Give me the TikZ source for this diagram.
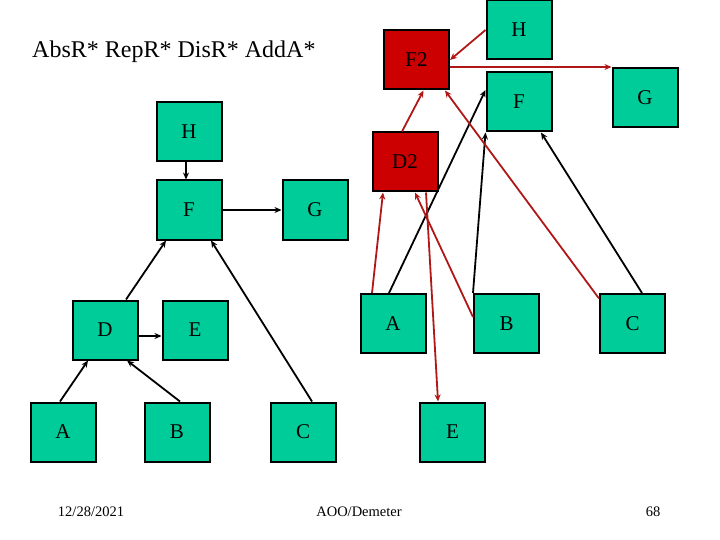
\documentclass[tikz,border=0pt]{standalone}
\usepackage{fontspec}
\setmainfont{Liberation Serif}
\usetikzlibrary{arrows.meta}
\definecolor{boxgreen}{HTML}{00CC99}
\definecolor{boxred}{HTML}{CC0000}
\definecolor{linkred}{HTML}{B01818}

\begin{document}
\begin{tikzpicture}[x=1pt,y=-1pt,
    box/.style={draw=black,line width=2pt,fill=boxgreen,minimum width=65pt,minimum height=59pt,inner sep=0pt,font=\fontsize{21}{24}\selectfont},
    redbox/.style={box,fill=boxred},
    link/.style={line width=1.8pt,-{Stealth[length=7pt,width=6pt]}},
    redlink/.style={link,draw=linkred}]
    \useasboundingbox (0,0) rectangle (720,540);
    % title and footer
    \node[anchor=base west,font=\fontsize{24}{28}\selectfont,inner sep=0pt] (title) at (32,58) {AbsR* RepR* DisR* AddA*};
    \node[anchor=base,font=\fontsize{14.5}{16}\selectfont,inner sep=0pt] (date) at (91,516) {12/28/2021};
    \node[anchor=base,font=\fontsize{14.5}{16}\selectfont,inner sep=0pt] (org) at (359,516) {AOO/Demeter};
    \node[anchor=base,font=\fontsize{14.5}{16}\selectfont,inner sep=0pt] (page) at (653,516) {68};
    % left tree
    \node[box] (lH) at (189,132) {H};
    \node[box] (lF) at (189,210) {F};
    \node[box] (lG) at (315,210) {G};
    \node[box] (lD) at (105,330) {D};
    \node[box] (lE) at (195,330) {E};
    \node[box] (lA) at (63,432) {A};
    \node[box] (lB) at (177,432) {B};
    \node[box] (lC) at (303,432) {C};
    \draw[link] ([xshift=-3pt]lH.south) -- ([xshift=-3pt]lF.north);
    \draw[link] (lF.east) -- (lG.west);
    \draw[link] ([yshift=-6pt]lD.east) -- ([yshift=-6pt]lE.west);
    \draw[link] ([xshift=-3pt]lA.north) -- ([xshift=-17pt]lD.south);
    \draw[link] ([xshift=3pt]lB.north) -- ([xshift=22pt]lD.south);
    \draw[link] ([xshift=21pt]lD.north) -- ([xshift=-23pt]lF.south);
    \draw[link] ([xshift=9pt]lC.north) -- ([xshift=22pt]lF.south);
    % right tree
    \node[box] (rH) at (519,30) {H};
    \node[redbox] (rF2) at (416.5,60) {F2};
    \node[box] (rF) at (519,102) {F};
    \node[box] (rG) at (645,97.5) {G};
    \node[redbox] (rD2) at (405,162) {D2};
    \node[box] (rA) at (393,323.5) {A};
    \node[box] (rB) at (506.5,323.5) {B};
    \node[box] (rC) at (632.5,323.5) {C};
    \node[box] (rE) at (452.5,432) {E};
    \draw[link] ([xshift=-4pt]rA.north) -- ([yshift=12pt]rF.west);
    \draw[link] (rB.north west) -- (rF.south west);
    \draw[link] ([xshift=9.5pt]rC.north) -- ([xshift=22pt]rF.south);
    \draw[redlink] (rH.west) -- (rF2.east);
    \draw[redlink] (rF2.east |- rG.north west) -- (rG.north west);
    \draw[redlink] ([xshift=-3pt]rD2.north) -- ([xshift=7pt]rF2.south);
    \draw[redlink] ([yshift=25pt]rC.west) -- ([xshift=-5pt]rF2.south east);
    \draw[redlink] ([yshift=6.5pt]rB.west) -- ([xshift=10pt]rD2.south);
    \draw[redlink] ([xshift=-21pt]rA.north) -- ([xshift=-22pt]rD2.south);
    \draw[redlink] ([xshift=21pt]rD2.south) -- ([xshift=-14.5pt]rE.north);
\end{tikzpicture}
\end{document}
